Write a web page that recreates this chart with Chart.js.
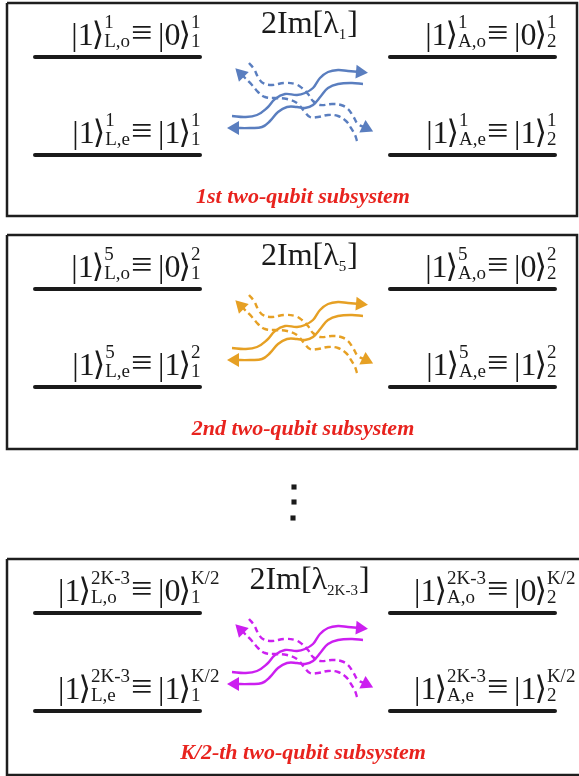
<!DOCTYPE html>
<html>
<head>
<meta charset="utf-8">
<script src="https://cdn.jsdelivr.net/npm/chart.js@4.4.0/dist/chart.umd.min.js"></script>
<style>
  html, body { margin: 0; padding: 0; background: #fff; }
  canvas { display: block; }
</style>
</head>
<body>
<canvas id="diagram" width="579" height="776"></canvas>
<script>
// one framed box per two-qubit subsystem
const boxTops = [3, 235, 559];
const boxBottoms = [216, 449, 775];
const boxRights = [577, 577, 583];
const lambdaSubs = ['1', '5', '2K-3'];
const stateSups = ['1', '5', '2K-3'];
const qubitSups = ['1', '2', 'K/2'];
const captions = ['1st two-qubit subsystem', '2nd two-qubit subsystem', 'K/2-th two-qubit subsystem'];
const waveColors = ['#5a7ebf', '#e6a024', '#cc1ff0'];

// energy levels: rows measured from the box top, spans for the L and A sides
const levelRows = [54, 152];
const levelSpans = [[35, 200], [390, 555]];
const eqAnchors = [131, 487];

// wavy transitions, [x, y from box top], tail first, arrow last
const waveUp = [[232, 113], [245, 114], [257, 112], [267, 105], [275, 96], [285, 91], [297, 92], [305, 90], [313, 85], [320, 75], [328, 69], [338, 67], [348, 68], [360, 69]];
const waveBack = [[363, 81], [352, 80], [338, 81], [328, 85], [321, 93], [313, 102], [305, 105], [297, 104], [287, 104], [278, 109], [270, 118], [262, 124], [250, 125], [235, 125]];
const dashDown = [[249, 60], [254, 66], [258, 74], [263, 80], [272, 82], [284, 80], [295, 81], [302, 85], [308, 91], [313, 98], [320, 102], [332, 101], [341, 102], [348, 106], [353, 113], [358, 121], [366, 125]];
const dashBack = [[357, 138], [355, 132], [351, 125], [346, 118], [338, 113], [328, 112], [318, 114], [310, 114], [304, 108], [297, 100], [287, 96], [275, 95], [265, 94], [258, 89], [252, 82], [241, 71]];
const waves = [
  { pts: waveUp, dashed: false },
  { pts: waveBack, dashed: false },
  { pts: dashDown, dashed: true },
  { pts: dashBack, dashed: true }
];

// vertical ellipsis between box 2 and box 3
const dotsX = [294, 294, 293];
const dotsY = [487, 502, 518];

const MAIN = '32px "Liberation Serif", "DejaVu Serif", serif';
const EQUIV = '38px "Liberation Serif", "DejaVu Serif", serif';
const SCRIPT = '19px "Liberation Serif", "DejaVu Serif", serif';
const LAMBDA_SUB = '15px "Liberation Serif", "DejaVu Serif", serif';
const CAPTION = 'italic bold 22px "Liberation Serif", serif';

function arrowAngle(pts) {
  const a = pts[pts.length - 2], b = pts[pts.length - 1];
  return Math.atan2(b[0] - a[0], -(b[1] - a[1])) * 180 / Math.PI;
}

const datasets = [];
boxTops.forEach((top, i) => {
  const bottom = boxBottoms[i], right = boxRights[i];
  datasets.push({
    data: [{x: 7, y: top}, {x: right, y: top}, {x: right, y: bottom}, {x: 7, y: bottom}, {x: 7, y: top}],
    borderColor: '#1e1e1e', borderWidth: 2.5, pointRadius: 0, tension: 0
  });
  levelRows.forEach(row => {
    levelSpans.forEach(span => {
      datasets.push({
        data: [{x: span[0], y: top + row}, {x: span[1], y: top + row}],
        borderColor: '#1a1a1a', borderWidth: 4, borderCapStyle: 'round', pointRadius: 0, tension: 0
      });
    });
  });
  waves.forEach(w => {
    const last = w.pts.length - 1;
    const rot = arrowAngle(w.pts);
    datasets.push({
      data: w.pts.map(p => ({x: p[0], y: top + p[1]})),
      borderColor: waveColors[i],
      backgroundColor: waveColors[i],
      borderWidth: 2.4,
      borderDash: w.dashed ? [6, 4] : [],
      tension: 0.4,
      pointStyle: 'triangle',
      pointRadius: ctx => ctx.dataIndex === last ? 8 : 0,
      pointRotation: rot,
      pointBorderWidth: 0
    });
  });
});
datasets.push({
  data: dotsX.map((x, k) => ({x: x, y: dotsY[k]})),
  showLine: false, pointStyle: 'rect', pointRadius: 3.6,
  backgroundColor: '#1a1a1a', borderColor: '#1a1a1a', pointBorderWidth: 0
});

// |digit>^sup_sub, returns the x where it ends
function ket(ctx, x, y, digit, sup, sub, draw) {
  ctx.font = MAIN;
  if (draw) ctx.fillText('|', x, y);
  let cx = x + ctx.measureText('|').width;
  if (draw) ctx.fillText(digit, cx, y);
  cx += ctx.measureText(digit).width - 2;
  if (draw) ctx.fillText('\u27E9', cx, y);
  cx += ctx.measureText('\u27E9').width;
  ctx.font = SCRIPT;
  if (draw) {
    ctx.fillText(sup, cx, y - 17);
    ctx.fillText(sub, cx, y + 2);
  }
  return cx + Math.max(ctx.measureText(sup).width, ctx.measureText(sub).width);
}

const diagramText = {
  id: 'diagramText',
  afterDatasetsDraw(chart) {
    const ctx = chart.ctx;
    const sx = chart.scales.x, sy = chart.scales.y;
    ctx.save();
    ctx.textAlign = 'left';
    ctx.textBaseline = 'alphabetic';
    boxTops.forEach((top, i) => {
      ctx.fillStyle = '#1a1a1a';
      // 2Im[lambda_n]
      ctx.font = MAIN;
      const head = '2Im[\u03BB';
      const w1 = ctx.measureText(head).width, w3 = ctx.measureText(']').width;
      ctx.font = LAMBDA_SUB;
      const w2 = ctx.measureText(lambdaSubs[i]).width;
      let tx = sx.getPixelForValue(309) - (w1 + w2 + w3) / 2;
      const ty = sy.getPixelForValue(top + 30);
      ctx.font = MAIN;
      ctx.fillText(head, tx, ty);
      ctx.font = LAMBDA_SUB;
      ctx.fillText(lambdaSubs[i], tx + w1, ty + 6);
      ctx.font = MAIN;
      ctx.fillText(']', tx + w1 + w2 + 1, ty);

      // state labels over each level
      levelRows.forEach((row, r) => {
        eqAnchors.forEach((eqX, side) => {
          const y = sy.getPixelForValue(top + row - 12);
          const ex = sx.getPixelForValue(eqX);
          const sub = (side ? 'A' : 'L') + ',' + (r ? 'e' : 'o');
          const lw = ket(ctx, 0, 0, '1', stateSups[i], sub, false);
          ket(ctx, ex - lw - 1, y, '1', stateSups[i], sub, true);
          ctx.font = EQUIV;
          ctx.fillText('\u2261', ex, y);
          ket(ctx, ex + 27, y, r ? '1' : '0', qubitSups[i], side ? '2' : '1', true);
        });
      });

      // caption
      ctx.font = CAPTION;
      ctx.fillStyle = '#e8231e';
      ctx.textAlign = 'center';
      ctx.fillText(captions[i], sx.getPixelForValue(303), sy.getPixelForValue(top + 200));
      ctx.textAlign = 'left';
    });
    ctx.restore();
  }
};

new Chart(document.getElementById('diagram'), {
  type: 'line',
  data: { datasets: datasets },
  options: {
    responsive: false,
    animation: false,
    layout: { padding: 0, autoPadding: false },
    plugins: { legend: { display: false }, tooltip: { enabled: false } },
    scales: {
      x: { type: 'linear', min: 0, max: 579, display: false },
      y: { type: 'linear', min: 0, max: 776, reverse: true, display: false }
    }
  },
  plugins: [diagramText]
});
</script>
</body>
</html>
